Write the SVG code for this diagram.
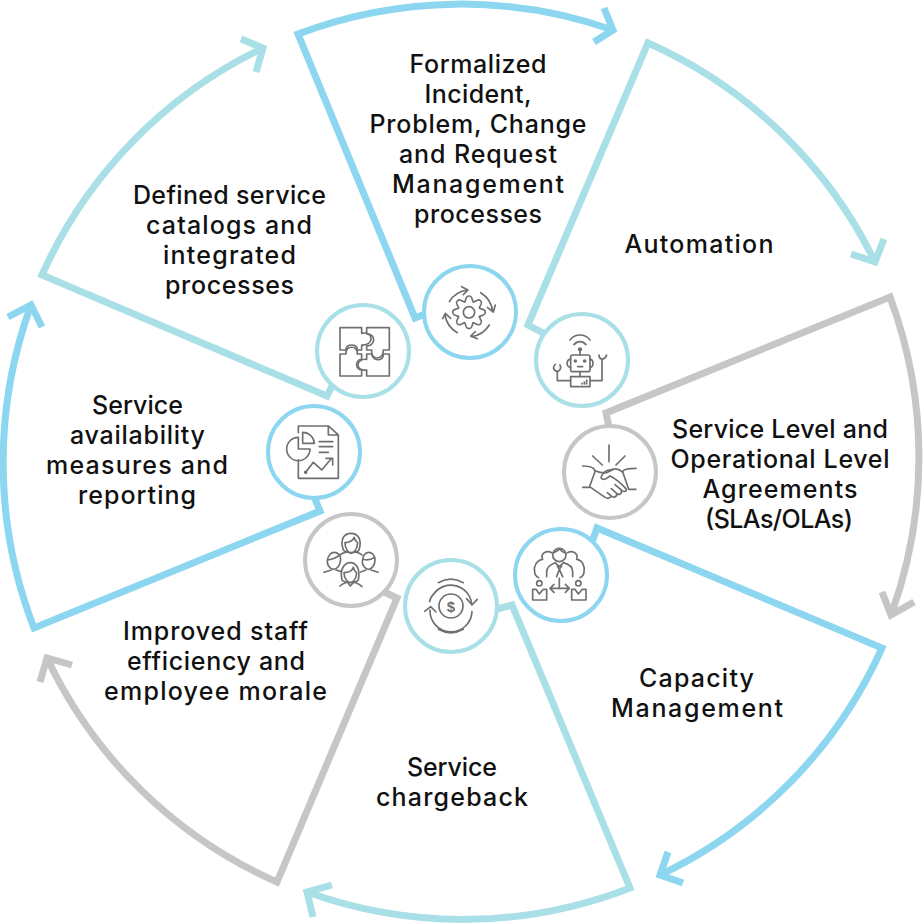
<svg xmlns="http://www.w3.org/2000/svg" width="924" height="924" viewBox="0 0 924 924">
<style>
.t{font-family:"Inter","Liberation Sans",sans-serif;font-size:25px;font-weight:500;fill:#111;text-anchor:middle}
.c{fill:#fff;stroke-width:4}
.ln{fill:none;stroke-width:7;stroke-linejoin:miter;stroke-miterlimit:10}
.blue{stroke:#8dd6f0}.teal{stroke:#a9dfe6}.gray{stroke:#c6c6c6}
.i{fill:none;stroke:#6f6f6f;stroke-width:5;stroke-linecap:round;stroke-linejoin:round}
.d{fill:#6f6f6f}
</style>
<defs>
<path id="tooth" d="M-4.2,-11 L-2.8,-15 A3,3 0 0 1 2.8,-15 L4.2,-11 L4.81,-10.75"/>
</defs>
<rect width="924" height="924" fill="#fff"/>
<g id="connectors">
<path class="ln blue" d="M430,312 L415,318 L298,34 A459,459 0 0 1 613,30"/>
<path class="ln blue" d="M604,8 L613,30 L594,42"/>
<path class="ln teal" d="M545,334 L528,325 L648,43 A459,459 0 0 1 875,262"/>
<path class="ln teal" d="M884,239 L875,262 L851,254"/>
<path class="ln gray" d="M609,427 L606,413 L890,297 A459,459 0 0 1 891,615"/>
<path class="ln gray" d="M914,602 L891,615 L882,592"/>
<path class="ln blue" d="M592,542 L597,528 L882,648 A459,459 0 0 1 660,875"/>
<path class="ln blue" d="M668,852 L660,875 L683,883"/>
<path class="ln teal" d="M497,609 L512,605 L630,888 A459,459 0 0 1 307,892"/>
<path class="ln teal" d="M332,885 L307,892 L313,917"/>
<path class="ln gray" d="M384,592 L397,598 L277,882 A459,459 0 0 1 47,658"/>
<path class="ln gray" d="M72,665 L47,658 L40,682"/>
<path class="ln blue" d="M315,499 L320,511 L34,628 A459,459 0 0 1 31,305"/>
<path class="ln blue" d="M8,317 L31,305 L42,327"/>
<path class="ln teal" d="M333,384 L327,396 L42,275 A459,459 0 0 1 263,48"/>
<path class="ln teal" d="M241,39 L263,48 L256,72"/>
</g>
<g id="node-incident">
<circle class="c blue" cx="470" cy="312" r="46"/>
<g transform="translate(400,250) scale(.3333)" class="i">
<circle cx="207" cy="187" r="17"/>
<g transform="translate(207,187) scale(2.9)" style="stroke-width:1.7">
<use href="#tooth"/><use href="#tooth" transform="rotate(45)"/><use href="#tooth" transform="rotate(90)"/><use href="#tooth" transform="rotate(135)"/><use href="#tooth" transform="rotate(180)"/><use href="#tooth" transform="rotate(225)"/><use href="#tooth" transform="rotate(270)"/><use href="#tooth" transform="rotate(315)"/>
</g>
<path d="M148,155 A75,75 0 0 1 203,120 M185,110 L204,120 L190,134"/>
<path d="M242,128 A75,75 0 0 1 278,185 M262,172 L280,186 L286,165"/>
<path d="M268,225 A75,75 0 0 1 214,260 M232,266 L212,258 L226,245"/>
<path d="M172,248 A75,75 0 0 1 135,195 M128,206 L136,190 L152,205"/>
</g>
<text class="t" x="478" y="73" textLength="137">Formalized</text>
<text class="t" x="478" y="103" textLength="107">Incident,</text>
<text class="t" x="478" y="133" textLength="217">Problem, Change</text>
<text class="t" x="478" y="163" textLength="158">and Request</text>
<text class="t" x="478" y="193" textLength="172">Management</text>
<text class="t" x="478" y="223" textLength="128">processes</text>
</g>
<g id="node-automation">
<circle class="c teal" cx="582" cy="360" r="46"/>
<g transform="translate(400,250) scale(.3333)" class="i">
<path d="M510,270 C525,250 555,250 570,270 M522,284 C532,272 548,272 558,284"/>
<circle class="d" cx="540" cy="298" r="4"/>
<path d="M540,298 V315"/>
<rect x="512" y="315" width="58" height="50" rx="6"/>
<path d="M512,328 C498,328 498,352 512,352 M570,328 C582,328 582,352 570,352"/>
<circle class="d" cx="526" cy="333" r="3"/><circle class="d" cx="554" cy="333" r="3"/>
<path d="M533,350 H548 M540,365 V380"/>
<rect x="512" y="380" width="58" height="30"/>
<path d="M512,392 H472 V365 C458,360 458,350 466,343 M472,365 C482,362 484,352 480,345"/>
<path d="M570,392 H606 V328 C596,325 597,318 597,315 M606,328 C618,325 619,318 620,315"/>
<path d="M546,402 V400 M553,402 V396 M560,402 V390"/>
</g>
<text class="t" x="699" y="253" textLength="149">Automation</text>
</g>
<g id="node-sla">
<circle class="c gray" cx="610" cy="472" r="46"/>
<g transform="translate(500,410) scale(.3333)" class="i">
<path d="M327,105 V155 M278,138 L307,165 M375,138 L348,165"/>
<path d="M248,168 C270,168 285,172 285,185 L268,232 H248"/>
<path d="M408,175 C390,175 370,176 368,185 L386,238 H408"/>
<path d="M285,182 C295,186 305,190 320,188 L340,178 C350,174 360,180 368,186"/>
<path d="M340,178 L320,182 C308,188 302,200 304,205 C310,212 322,205 330,198 C345,205 365,222 378,236 C382,244 372,248 364,240 L345,224 M364,240 C368,252 356,256 350,250 L334,236 M350,250 C352,262 340,264 334,258 L322,248 M334,258 C330,268 320,266 312,260 L272,232"/>
</g>
<text class="t" x="780" y="438" textLength="216">Service Level and</text>
<text class="t" x="780" y="468" textLength="219">Operational Level</text>
<text class="t" x="780" y="498" textLength="155">Agreements</text>
<text class="t" x="779" y="528" textLength="148">(SLAs/OLAs)</text>
</g>
<g id="node-capacity">
<circle class="c blue" cx="561" cy="575" r="46"/>
<g transform="translate(500,410) scale(.3333)" class="i">
<circle cx="178" cy="435" r="20"/>
<path d="M160,428 C170,425 175,420 180,418 C185,425 190,428 197,430"/>
<path d="M140,500 V485 C140,470 155,462 165,458 L178,470 L191,458 C205,462 218,470 218,485 V500"/>
<path d="M172,468 L185,468 L178,478 Z M178,478 L170,500 M178,478 L188,500"/>
<path d="M155,428 C140,420 120,430 128,448 C110,450 100,470 104,485 C104,495 110,500 116,503"/>
<path d="M202,428 C218,420 236,430 230,448 C248,450 255,470 252,485 C252,495 246,500 240,503"/>
<circle cx="118" cy="520" r="8"/><circle cx="235" cy="520" r="8"/>
<path d="M98,570 V538 H108 L118,552 L130,538 H140 V570 Z"/>
<path d="M215,570 V538 H225 L235,552 L247,538 H258 V570 Z"/>
<path d="M150,535 H208 M162,523 L150,535 L162,547 M196,523 L208,535 L196,547 M178,505 V535"/>
</g>
<text class="t" x="696.500" y="687" textLength="115">Capacity</text>
<text class="t" x="697" y="717" textLength="172">Management</text>
</g>
<g id="node-chargeback">
<circle class="c teal" cx="451" cy="606" r="46"/>
<g transform="translate(290,500) scale(.3333)" class="i">
<circle cx="483" cy="318" r="36"/>
<path d="M545,310 A63,63 0 0 0 432,281 C425,288 420,296 419,305"/>
<path d="M420,330 A63,63 0 0 0 546,335"/>
<path d="M530,296 L546,315 L562,298 M404,334 L422,320 L438,336"/>
<path d="M445,248 C470,234 495,234 520,248 M445,388 C470,402 495,402 520,388"/>
</g>
<text x="451" y="612" style="font-family:'Liberation Sans',sans-serif;font-size:15px;font-weight:700;fill:#6f6f6f;text-anchor:middle">$</text>
<text class="t" x="452" y="776" textLength="90">Service</text>
<text class="t" x="452" y="806" textLength="152">chargeback</text>
</g>
<g id="node-staff">
<circle class="c gray" cx="351" cy="560" r="46"/>
<g transform="translate(290,500) scale(.3333)" class="i">
<path d="M160,150 C148,115 165,100 183,100 C201,100 218,115 207,150 C200,160 168,160 160,150 Z"/>
<path d="M165,128 C180,128 190,120 192,112 C195,122 200,126 203,128 C203,150 188,160 183,160 C178,160 165,150 165,128 Z"/>
<path d="M150,165 C158,158 165,158 172,155 M216,165 C208,158 202,158 195,155"/>
<path d="M112,185 C112,165 125,157 133,157 C142,157 152,165 152,178 C152,195 140,208 131,208 C120,208 112,195 112,185 Z"/>
<path d="M112,180 C125,178 140,175 148,165"/>
<path d="M102,217 L124,210 M138,210 L152,214"/>
<path d="M217,185 C217,165 228,157 236,157 C245,157 255,165 255,180 C255,195 245,208 236,208 C225,208 217,195 217,185 Z"/>
<path d="M220,178 C232,182 245,178 253,172"/>
<path d="M264,217 L243,210 M228,210 L212,216"/>
<path d="M156,240 C148,205 165,188 181,188 C198,188 212,205 205,240 C198,250 165,250 156,240 Z"/>
<path d="M162,218 C178,218 188,210 190,202 C192,212 198,216 200,218 C200,238 186,248 181,248 C176,248 162,238 162,218 Z"/>
<path d="M150,258 C158,250 165,250 172,246 M216,260 C208,250 200,250 192,246 M172,246 L181,258 L192,246"/>
</g>
<text class="t" x="215.500" y="640" textLength="185">Improved staff</text>
<text class="t" x="216" y="670" textLength="178">efficiency and</text>
<text class="t" x="215.500" y="700" textLength="223">employee morale</text>
</g>
<g id="node-availability">
<circle class="c blue" cx="314" cy="452" r="46"/>
<g transform="translate(260,290) scale(.3333)" class="i">
<path d="M115,428 V408 H205 L235,435 V565 H115 V510 M205,408 V435 H235"/>
<path d="M128,427 A35,35 0 0 1 163,460 H128 Z"/>
<path d="M115,442 A35,35 0 1 0 150,477 H115 Z"/>
<path d="M178,455 H218 M178,470 H218 M178,487 H205"/>
<path d="M137,547 L160,517 L185,540 L215,505 M198,505 H218 V525"/>
<circle class="d" cx="137" cy="547" r="3"/>
</g>
<text class="t" x="137.500" y="414" textLength="91">Service</text>
<text class="t" x="137.500" y="444" textLength="135">availability</text>
<text class="t" x="137" y="474" textLength="182">measures and</text>
<text class="t" x="137" y="504" textLength="118">reporting</text>
</g>
<g id="node-catalog">
<circle class="c teal" cx="363" cy="351" r="46"/>
<g transform="translate(260,290) scale(.3333)" class="i">
<path d="M240,113 H305 V130 C340,122 345,168 305,165 V180 H292 C295,160 255,160 258,180 H240 Z"/>
<path d="M320,113 H388 V180 H370 C372,212 330,212 335,180 H320 V168 C348,168 348,130 320,132 Z"/>
<path d="M240,192 H258 C255,165 295,165 292,192 H305 V208 C285,208 285,240 305,240 V258 H240 Z"/>
<path d="M320,192 H335 C338,215 372,215 370,192 H388 V258 H320 V240 C285,245 285,205 320,208 Z"/>
</g>
<text class="t" x="229.500" y="204" textLength="193">Defined service</text>
<text class="t" x="229" y="234" textLength="166">catalogs and</text>
<text class="t" x="229.500" y="264" textLength="133">integrated</text>
<text class="t" x="229.500" y="294" textLength="129">processes</text>
</g>
</svg>
